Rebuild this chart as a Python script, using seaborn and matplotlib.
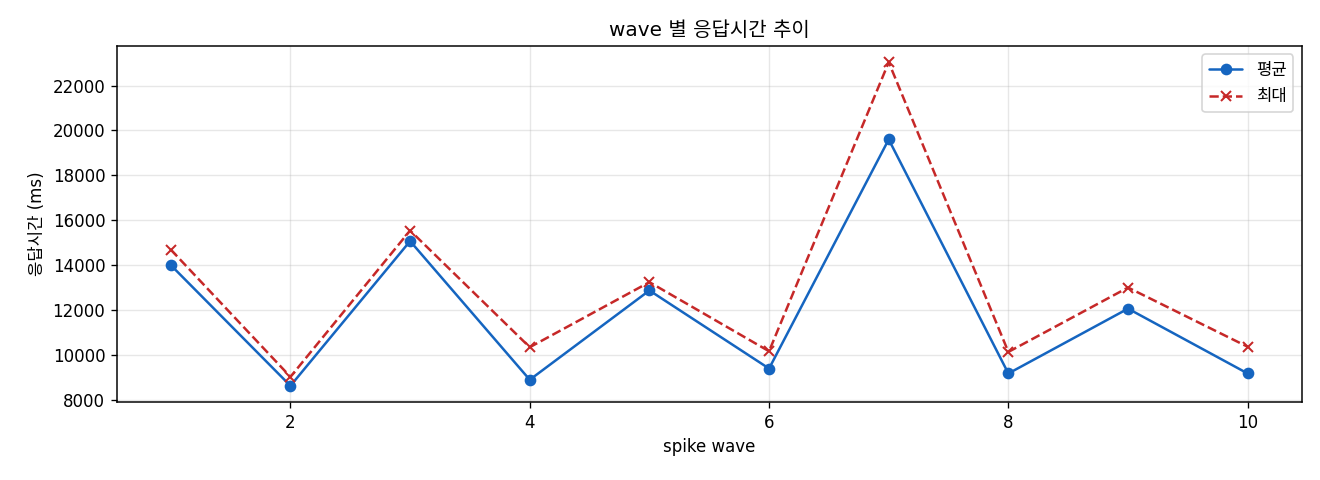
import numpy as np
import pandas as pd
import seaborn as sns
import matplotlib
matplotlib.use("Agg")
import matplotlib.pyplot as plt

waves = [1, 2, 3, 4, 5, 6, 7, 8, 9, 10]
avg_ms = [14000, 8620, 15070, 8890, 12870, 9390, 19600, 9170, 12060, 9170]
max_ms = [14690, 9020, 15540, 10340, 13240, 10160, 23040, 10130, 13000, 10360]

sns.set_style("white")
plt.rcParams['font.family'] = ['DejaVu Sans', 'Noto Sans CJK KR']
plt.rcParams['axes.unicode_minus'] = False
plt.rcParams['text.color'] = 'black'
plt.rcParams['axes.labelcolor'] = 'black'
plt.rcParams['xtick.color'] = 'black'
plt.rcParams['ytick.color'] = 'black'

df = pd.DataFrame({'wave': waves, '평균': avg_ms, '최대': max_ms})

fig, ax = plt.subplots(figsize=(11, 4), dpi=120)
fig.subplots_adjust(left=0.0886, right=0.986, top=0.904, bottom=0.1625)

sns.lineplot(data=df, x='wave', y='평균', ax=ax, color='#1565c0', marker='o',
             markersize=6, markeredgecolor='#1565c0', markeredgewidth=1,
             linewidth=1.5, label='평균')
sns.lineplot(data=df, x='wave', y='최대', ax=ax, color='#c62828', marker='x',
             markersize=6.5, markeredgecolor='#c62828', markeredgewidth=1.2,
             linestyle='--', linewidth=1.5, label='최대')

ax.grid(True, color='#b0b0b0', alpha=0.3, linewidth=0.8)
for s in ax.spines.values():
    s.set_edgecolor('black')
    s.set_linewidth(0.9)
ax.tick_params(axis='both', which='major', length=3.5, width=0.8, labelsize=10, direction='out',
               bottom=True, left=True)
ax.set_title('wave 별 응답시간 추이', fontsize=12)
ax.set_xlabel('spike wave', fontsize=10)
ax.set_ylabel('응답시간 (ms)', fontsize=10)
ax.legend(loc='upper right', fontsize=10, frameon=True)

plt.savefig('out.png', dpi=120)
